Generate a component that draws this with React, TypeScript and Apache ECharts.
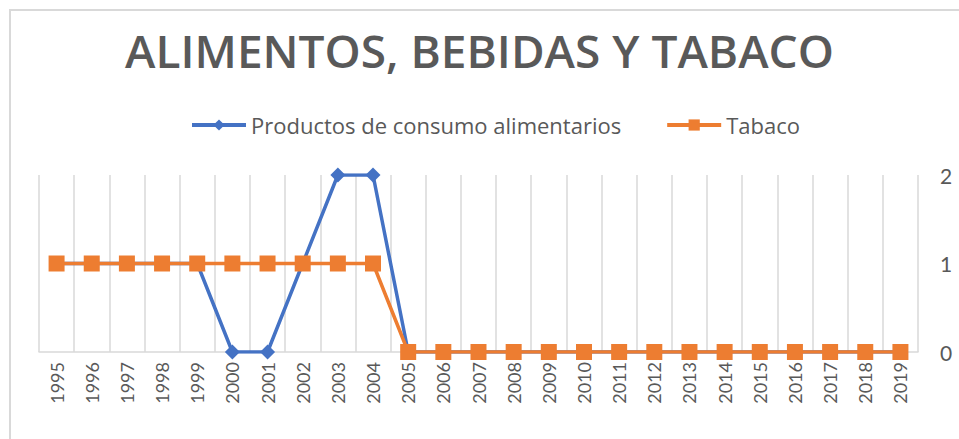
import React, { useEffect, useRef } from "react";
import * as echarts from "echarts";

const years = [
  "1995", "1996", "1997", "1998", "1999", "2000", "2001", "2002", "2003", "2004",
  "2005", "2006", "2007", "2008", "2009", "2010", "2011", "2012", "2013", "2014",
  "2015", "2016", "2017", "2018", "2019",
];
const productos = [1, 1, 1, 1, 1, 0, 0, 1, 2, 2, 0, 0, 0, 0, 0, 0, 0, 0, 0, 0, 0, 0, 0, 0, 0];
const tabaco = [1, 1, 1, 1, 1, 1, 1, 1, 1, 1, 0, 0, 0, 0, 0, 0, 0, 0, 0, 0, 0, 0, 0, 0, 0];
const titleText = "ALIMENTOS, BEBIDAS Y TABACO";
const seriesNames = ["Productos de consumo alimentarios", "Tabaco"];

const TEXT = "#595959";
const GRID = "#D9D9D9";
const FONT = "Lato, 'Open Sans', sans-serif";
const WIDE = "'Open Sans', Lato, sans-serif";

export default function App() {
  const ref = useRef<HTMLDivElement>(null);
  useEffect(() => {
    if (!ref.current) return;
    const chart = echarts.init(ref.current, undefined, { renderer: "svg" });
    chart.setOption({
      animation: false,
      backgroundColor: "#fff",
      graphic: [
        {
          type: "rect",
          shape: { x: 10, y: 10, width: 980, height: 460 },
          style: { fill: "none", stroke: GRID, lineWidth: 2 },
          z: 0,
        },
      ],
      title: {
        text: titleText,
        left: "center",
        top: 22,
        textStyle: {
          fontFamily: WIDE,
          fontWeight: 600,
          fontSize: 46,
          color: TEXT,
        },
      },
      legend: {
        top: 109,
        left: 185,
        itemWidth: 54,
        itemHeight: 14,
        itemGap: 44,
        lineStyle: { width: 4 },
        textStyle: { fontFamily: WIDE, fontSize: 22, color: TEXT },
        data: seriesNames,
      },
      grid: { left: 39, right: 41, top: 175, bottom: 87, containLabel: false },
      xAxis: {
        type: "category",
        data: years,
        boundaryGap: true,
        axisLine: { show: true, lineStyle: { color: GRID, width: 1.5 } },
        axisTick: { show: false },
        splitLine: { show: true, lineStyle: { color: GRID, width: 1.5 } },
        axisLabel: {
          rotate: 90,
          margin: 10,
          fontFamily: FONT,
          fontSize: 18,
          color: TEXT,
          interval: 0,
        },
      },
      yAxis: {
        type: "value",
        position: "right",
        min: 0,
        max: 2,
        interval: 1,
        axisLine: { show: false },
        axisTick: { show: false },
        splitLine: { show: false },
        axisLabel: { margin: 22, fontFamily: FONT, fontSize: 21, color: TEXT },
      },
      series: [
        {
          name: seriesNames[0],
          type: "line",
          data: productos,
          symbol: "diamond",
          symbolSize: 15,
          lineStyle: { color: "#4472C4", width: 3.5 },
          itemStyle: { color: "#4472C4" },
          z: 2,
        },
        {
          name: seriesNames[1],
          type: "line",
          data: tabaco,
          symbol: "rect",
          symbolSize: 16,
          lineStyle: { color: "#ED7D31", width: 3.5 },
          itemStyle: { color: "#ED7D31" },
          z: 3,
        },
      ],
    });
    return () => chart.dispose();
  }, []);
  return <div ref={ref} style={{ width: 959, height: 439, position: "absolute", left: 0, top: 0 }} />;
}
